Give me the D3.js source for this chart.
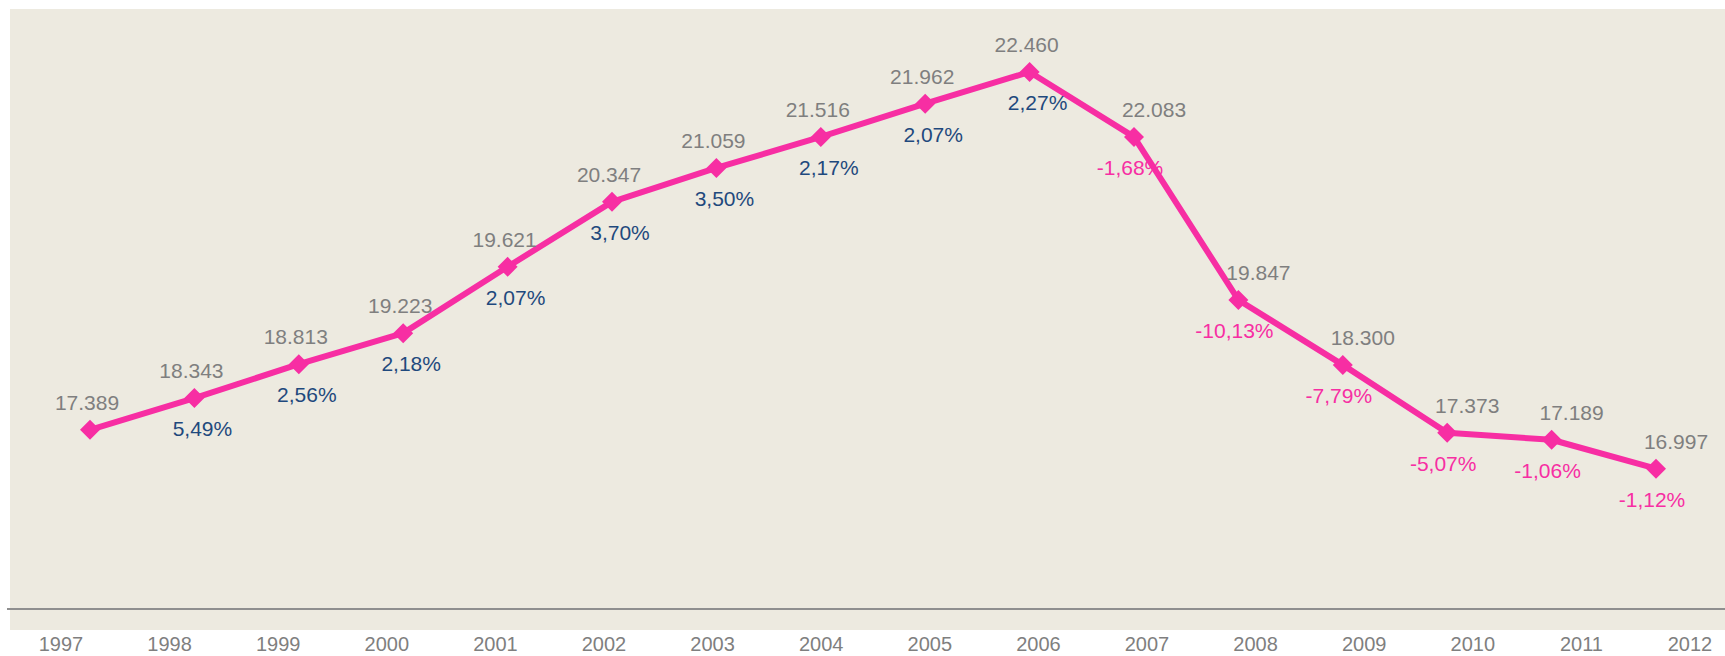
<!DOCTYPE html>
<html>
<head>
<meta charset="utf-8">
<script src="https://cdn.jsdelivr.net/npm/d3@7"></script>
<style>
  body { margin: 0; background: #fff; }
  text { font-family: "Liberation Sans", Arial, sans-serif; }
</style>
</head>
<body>
<div id="chart"></div>
<script>
// years on the category axis
var years = ["1997","1998","1999","2000","2001","2002","2003","2004","2005","2006","2007","2008","2009","2010","2011","2012"];
// value labels shown above the points
var valueLabels = ["17.389","18.343","18.813","19.223","19.621","20.347","21.059","21.516","21.962","22.460","22.083","19.847","18.300","17.373","17.189","16.997"];
// yearly change labels shown below the points
var changes = [null, 5.49, 2.56, 2.18, 2.07, 3.70, 3.50, 2.17, 2.07, 2.27, -1.68, -10.13, -7.79, -5.07, -1.06, -1.12];
// height of each point as drawn in the picture
var levels = [17.39, 17.84, 18.32, 18.76, 19.70, 20.62, 21.10, 21.54, 22.01, 22.46, 21.54, 19.23, 18.31, 17.35, 17.25, 16.84];

var W = 1725, H = 656;
var pink = "#f72ea3", blue = "#1f497d", grey = "#7f7f7f";
var axisY = 609;

var svg = d3.select("#chart").append("svg")
    .attr("width", W)
    .attr("height", H);

// plot background
svg.append("rect")
    .attr("x", 10).attr("y", 9)
    .attr("width", W - 10).attr("height", 621)
    .attr("fill", "#edeae0");

svg.append("line")
    .attr("x1", 7).attr("x2", W)
    .attr("y1", axisY).attr("y2", axisY)
    .attr("stroke", "#8f8f8f")
    .attr("stroke-width", 2);

var x = d3.scalePoint().domain(years).range([90, 1656]);
var xLab = d3.scalePoint().domain(years).range([61, 1690]);
var y = d3.scaleLinear().domain([15, 23]).range([598.6, 33.8]);

var data = years.map(function (yr, i) {
    return { year: yr, level: levels[i], label: valueLabels[i], change: changes[i] };
});

// year labels along the bottom
svg.append("g")
    .selectAll("text")
    .data(years)
    .enter().append("text")
    .attr("x", function (d) { return xLab(d); })
    .attr("y", 651)
    .attr("text-anchor", "middle")
    .style("font-size", "20px")
    .attr("fill", grey)
    .text(function (d) { return d; });

var line = d3.line()
    .x(function (d) { return x(d.year); })
    .y(function (d) { return y(d.level); });

svg.append("path")
    .datum(data)
    .attr("d", line)
    .attr("fill", "none")
    .attr("stroke", pink)
    .attr("stroke-width", 6)
    .attr("stroke-linejoin", "round");

svg.append("g")
    .selectAll("path")
    .data(data)
    .enter().append("path")
    .attr("d", d3.symbol(d3.symbolSquare, 200))
    .attr("transform", function (d) { return "translate(" + x(d.year) + "," + y(d.level) + ") rotate(45)"; })
    .attr("fill", pink);

// falling years have labels nudged, like the original
function isDown(d) { return d.change !== null && d.change < 0; }

svg.append("g")
    .selectAll("text")
    .data(data)
    .enter().append("text")
    .attr("x", function (d) { return x(d.year) + (isDown(d) ? 20 : -3); })
    .attr("y", function (d) { return y(d.level) - 20; })
    .attr("text-anchor", "middle")
    .style("font-size", "21px")
    .attr("fill", grey)
    .text(function (d) { return d.label; });

var fmt = function (v) { return v.toFixed(2).replace(".", ",") + "%"; };

svg.append("g")
    .selectAll("text")
    .data(data.filter(function (d) { return d.change !== null; }))
    .enter().append("text")
    .attr("x", function (d) { return x(d.year) + (isDown(d) ? -4 : 8); })
    .attr("y", function (d) { return y(d.level) + 38; })
    .attr("text-anchor", "middle")
    .style("font-size", "21px")
    .attr("fill", function (d) { return isDown(d) ? pink : blue; })
    .text(function (d) { return fmt(d.change); });
</script>
</body>
</html>
